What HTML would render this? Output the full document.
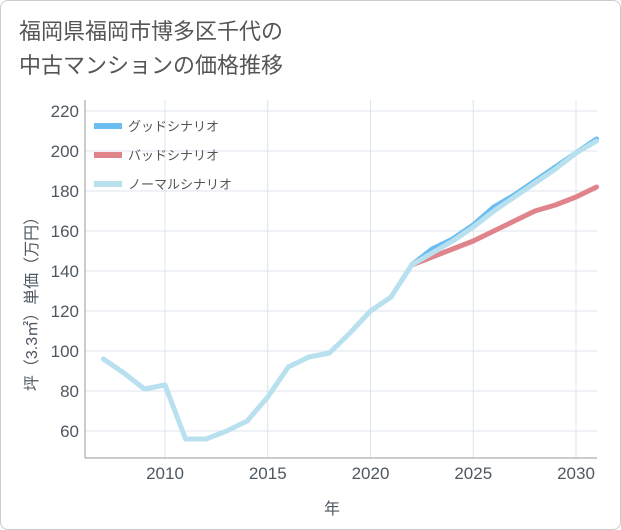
<!DOCTYPE html>
<html><head><meta charset="utf-8"><style>
body{margin:0;background:#fff;font-family:"Liberation Sans","Noto Sans CJK JP",sans-serif;}
#card{position:absolute;left:0;top:0;width:619px;height:528px;border:1px solid #ccc;border-radius:8px;background:#fff;}
#title{position:absolute;left:18px;top:14px;font-size:22px;line-height:34px;color:#555;font-family:"Liberation Sans","Noto Sans CJK JP",sans-serif;}
</style></head><body>
<div id="card">
<div id="title">福岡県福岡市博多区千代の<br>中古マンションの価格推移</div>
</div>
<svg id="chart" width="621" height="530" style="position:absolute;left:0;top:0"></svg>
<script>
const years=[2007,2008,2009,2010,2011,2012,2013,2014,2015,2016,2017,2018,2019,2020,2021,2022,2023,2024,2025,2026,2027,2028,2029,2030,2031];
const normalVals=[96,89,81,83,56,56,60,65,77,92,97,99,109,120,127,143,149,155,162,170,177,184,191,199,205];
const fcYears=[2022,2023,2024,2025,2026,2027,2028,2029,2030,2031];
const goodVals=[143,151,156,163,172,178,185,192,199,206];
const badVals=[143,147,151,155,160,165,170,173,177,182];
const yTicks=[60,80,100,120,140,160,180,200,220];
const xTicks=[2010,2015,2020,2025,2030];
const NS='http://www.w3.org/2000/svg';
const svg=document.getElementById('chart');
const L=85,R=597,T=100,B=458;
const x=v=>165+(v-2010)*20.55;
const y=v=>431-(v-60)*2.0;
function mk(tag,attrs,parent){const e=document.createElementNS(NS,tag);for(const k in attrs)e.setAttribute(k,attrs[k]);(parent||svg).appendChild(e);return e;}
const bg=mk('rect',{x:L,y:T,width:R-L,height:B-T,fill:'#fff'});


yTicks.forEach(v=>{
 const g=mk('line',{x1:L,x2:R,y1:y(v),y2:y(v),stroke:'#dde4ec','stroke-width':1});
 
 
 const t=mk('text',{x:79,y:y(v)+6,'text-anchor':'end','font-size':17,fill:'#4f5862'});
 t.textContent=v;
 
 
});
xTicks.forEach(v=>{
 const g=mk('line',{x1:x(v),x2:x(v),y1:T,y2:B,stroke:'#dde4ec','stroke-width':1});
 
 
 const t=mk('text',{x:x(v),y:479,'text-anchor':'middle','font-size':17,fill:'#4f5862'});
 t.textContent=v;
 
 
});
const ax=mk('line',{x1:L,x2:L,y1:T,y2:B,stroke:'#999','stroke-width':1});


const ax2=mk('line',{x1:L,x2:R,y1:B,y2:B,stroke:'#999','stroke-width':1});


function line(xs,vs,color,name){
 const p=mk('polyline',{points:xs.map((yr,i)=>x(yr)+','+y(vs[i])).join(' '),fill:'none',stroke:color,'stroke-width':5,'stroke-linejoin':'round','stroke-linecap':'round'});
 
 
}
line(fcYears,goodVals,'#6bbcf0','good-scenario-line');
line(fcYears,badVals,'#e0848c','bad-scenario-line');
line(years,normalVals,'#b8e0ee','normal-scenario-line');
const leg=[['グッドシナリオ','#6bbcf0'],['バッドシナリオ','#e0848c'],['ノーマルシナリオ','#b8e0ee']];
leg.forEach((l,i)=>{
 const yy=126+i*29;
 const r=mk('rect',{x:94,y:yy-3,width:28,height:6,fill:l[1]});
 
 
 const t=mk('text',{x:128,y:yy+5,'font-size':13,fill:'#555'});
 t.textContent=l[0];
 
 
});
const xt=mk('text',{x:332,y:514,'text-anchor':'middle','font-size':16,fill:'#4f5862'});
xt.textContent='年';


const yt=mk('text',{x:0,y:0,'text-anchor':'middle','font-size':16,fill:'#4f5862',transform:'translate(37,300) rotate(-90)'});
yt.textContent='坪（3.3㎡）単価（万円）';


</script>
</body></html>
